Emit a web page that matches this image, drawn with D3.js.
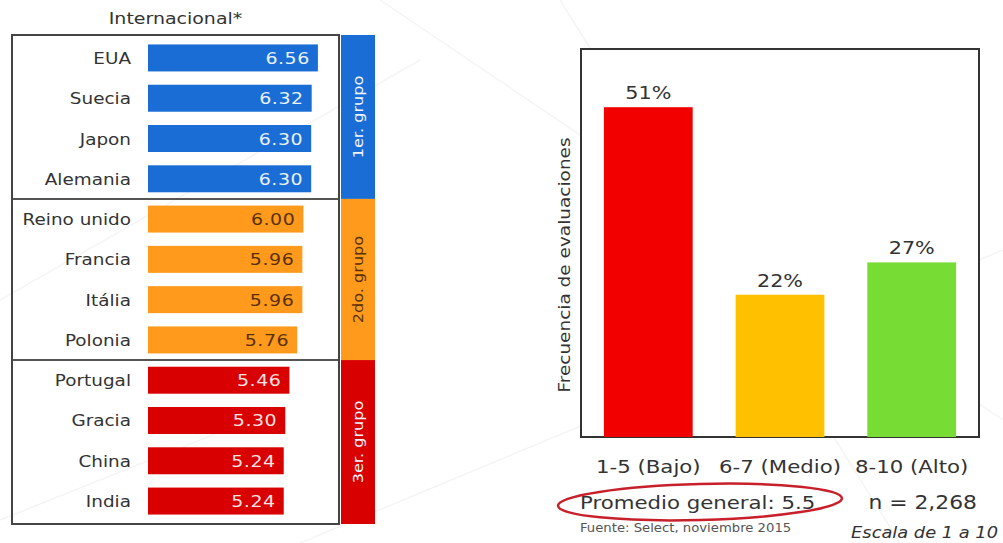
<!DOCTYPE html>
<html>
<head>
<meta charset="utf-8">
<script src="https://cdn.jsdelivr.net/npm/d3@7"></script>
<style>
  html, body { margin: 0; padding: 0; background: #fff; }
  svg { display: block; font-family: "DejaVu Sans", Verdana, sans-serif; }
</style>
</head>
<body>
<svg id="chart" width="1003" height="543"></svg>
<script>
// Country averages (scale 1 to 10), grouped in three tiers
const countries = ["EUA", "Suecia", "Japon", "Alemania",
                   "Reino unido", "Francia", "Itália", "Polonia",
                   "Portugal", "Gracia", "China", "India"];
const countryValues = [6.56, 6.32, 6.30, 6.30,
                       6.00, 5.96, 5.96, 5.76,
                       5.46, 5.30, 5.24, 5.24];
const countryGroup = [0, 0, 0, 0, 1, 1, 1, 1, 2, 2, 2, 2];
const groupNames = ["1er. grupo", "2do. grupo", "3er. grupo"];

// Distribution of ratings
const ratingBands = ["1-5 (Bajo)", "6-7 (Medio)", "8-10 (Alto)"];
const ratingShares = [51, 22, 27];

const svg = d3.select("#chart");
const SX = 1.15; // horizontal stretch of the lettering

// text helper: places a horizontally stretched label
function label(g, x, y, str, opts = {}) {
  const rot = opts.rotate || 0;
  const t = g.append("text")
    .attr("transform", `translate(${x},${y}) rotate(${rot}) scale(${opts.sx || SX},1)`)
    .attr("text-anchor", opts.anchor || "start")
    .attr("font-size", opts.size || 16)
    .attr("fill", opts.fill || "#333")
    .text(str);
  if (opts.italic) t.attr("font-style", "italic");
  if (opts.weight) t.attr("font-weight", opts.weight);
  if (opts.spacing) t.attr("letter-spacing", opts.spacing);
  return t;
}

// faint background grid of diagonal strokes
const bg = svg.append("g").attr("stroke", "#f5f5f5").attr("stroke-width", 1.5).attr("fill", "none");
[[0, 300, 420, 60], [380, 0, 1003, 420], [560, 0, 900, 543], [300, 543, 1003, 250], [0, 520, 250, 420]]
  .forEach(([x1, y1, x2, y2]) => bg.append("line").attr("x1", x1).attr("y1", y1).attr("x2", x2).attr("y2", y2));

/* ---------------- Left panel: international ranking ---------------- */
const L = { left: 12, right: 339, top: 35, bottom: 524, barX: 148 };
const groupFill = ["#1a6dd5", "#ff9a1c", "#d80000"];
const valueFill = ["#eaf2ff", "#5a3000", "#ffe2e2"];

const left = svg.append("g");
const yRow = d3.scaleBand().domain(countries).range([L.top + 3, L.bottom - 3]).paddingInner(0.33).paddingOuter(0.16);
const xVal = d3.scaleLinear().domain([0, 1]).range([0, 25.9]);

label(left, (L.left + L.right) / 2, 24, "Internacional*", { anchor: "middle", size: 16.5 });

// group bands on the right
const groupRange = g => {
  const idx = countryGroup.map((d, i) => d === g ? i : -1).filter(i => i >= 0);
  const first = countries[idx[0]], last = countries[idx[idx.length - 1]];
  const step = yRow.step();
  const y0 = g === 0 ? L.top : yRow(first) - (step - yRow.bandwidth()) / 2;
  const y1 = g === 2 ? L.bottom : yRow(last) + yRow.bandwidth() + (step - yRow.bandwidth()) / 2;
  return [y0, y1];
};

groupNames.forEach((name, g) => {
  const [y0, y1] = groupRange(g);
  left.append("rect").attr("x", 341).attr("y", y0).attr("width", 34).attr("height", y1 - y0)
    .attr("fill", groupFill[g]);
  label(left, 363, (y0 + y1) / 2, name,
    { anchor: "middle", size: 14, rotate: -90, fill: g === 1 ? "#5a3000" : "#f4f4ff" });
  if (g > 0) {
    left.append("line").attr("x1", L.left).attr("x2", L.right).attr("y1", y0).attr("y2", y0)
      .attr("stroke", "#555").attr("stroke-width", 2);
  }
});

left.append("rect").attr("x", L.left).attr("y", L.top).attr("width", L.right - L.left)
  .attr("height", L.bottom - L.top).attr("fill", "none").attr("stroke", "#444").attr("stroke-width", 2);

countries.forEach((c, i) => {
  const y = yRow(c), h = yRow.bandwidth();
  const w = xVal(countryValues[i]);
  left.append("rect").attr("x", L.barX).attr("y", y).attr("width", w).attr("height", h)
    .attr("fill", groupFill[countryGroup[i]]);
  label(left, 131, y + h / 2 + 6, c, { anchor: "end", size: 16 });
  label(left, L.barX + w - 8, y + h / 2 + 6, countryValues[i].toFixed(2),
    { anchor: "end", size: 16.5, fill: valueFill[countryGroup[i]], spacing: 0.5 });
});

/* ---------------- Right panel: rating distribution ---------------- */
const R = { left: 581, right: 979, top: 49, bottom: 437 };
const ratingFill = ["#f20000", "#ffc000", "#77dc33"];
const right = svg.append("g");

const x = d3.scaleBand().domain(ratingBands).range([R.left, R.right]).paddingInner(0.326).paddingOuter(0.174);
const y = d3.scaleLinear().domain([0, 60]).range([R.bottom, R.top]);

right.append("rect").attr("x", R.left).attr("y", R.top).attr("width", R.right - R.left)
  .attr("height", R.bottom - R.top).attr("fill", "#fff").attr("stroke", "#333").attr("stroke-width", 2);

ratingBands.forEach((b, i) => {
  right.append("rect").attr("x", x(b)).attr("y", y(ratingShares[i]))
    .attr("width", x.bandwidth()).attr("height", y(0) - y(ratingShares[i])).attr("fill", ratingFill[i]);
  label(right, x(b) + x.bandwidth() / 2, y(ratingShares[i]) - 8, ratingShares[i] + "%",
    { anchor: "middle", size: 18 });
});

// category axis
const xAxis = right.append("g").attr("transform", `translate(0,${R.bottom})`)
  .call(d3.axisBottom(x).tickSize(0).tickPadding(0));
xAxis.select(".domain").remove();
xAxis.selectAll("text").remove();
ratingBands.forEach(b => label(right, x(b) + x.bandwidth() / 2, 473, b, { anchor: "middle", size: 18.5 }));

label(right, 570, (R.top + R.bottom) / 2 + 22, "Frecuencia de evaluaciones",
  { anchor: "middle", size: 16.5, rotate: -90, sx: 1.12 });

label(right, 580, 509, "Promedio general: 5.5", { size: 18.5 });
right.append("ellipse").attr("cx", 700).attr("cy", 502).attr("rx", 142).attr("ry", 18)
  .attr("transform", "rotate(-1.5,700,502)")
  .attr("fill", "none").attr("stroke", "#c8202a").attr("stroke-width", 2.5);
label(right, 977, 509, "n = 2,268", { anchor: "end", size: 19 });
label(right, 580, 532, "Fuente: Select, noviembre  2015", { size: 11.5, fill: "#555" });
label(right, 998, 538, "Escala de 1 a 10", { anchor: "end", size: 15.5, italic: true });
</script>
</body>
</html>
